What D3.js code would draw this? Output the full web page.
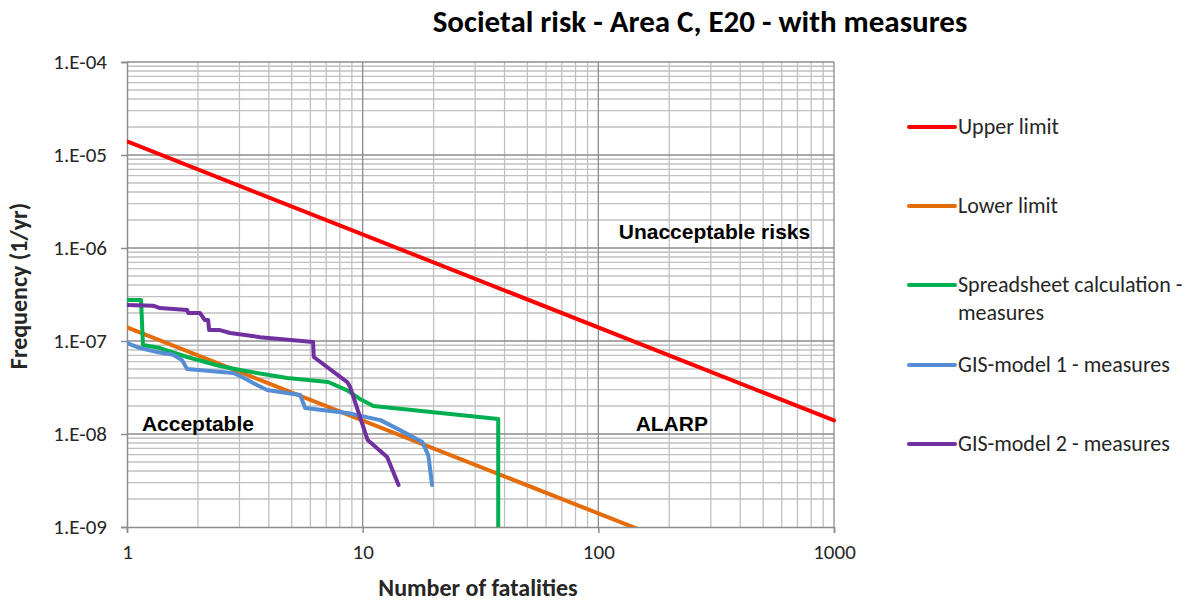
<!DOCTYPE html>
<html>
<head>
<meta charset="utf-8">
<script src="https://cdn.jsdelivr.net/npm/d3@7"></script>
<style>
  body { margin: 0; background: #fff; }
  svg text { font-family: Calibri, Carlito, Lato, "Liberation Sans", sans-serif; fill: #262626; }
</style>
</head>
<body>
<svg id="chart" width="1197" height="601"></svg>
<script>
// tick labels
const xTicks = [1, 10, 100, 1000];
const yTicks = [1e-9, 1e-8, 1e-7, 1e-6, 1e-5, 1e-4];

// series: [N, F]
const upperLimit = [[1, 1.4e-5], [1000, 1.4e-8]];
const lowerLimit = [[1, 1.4e-7], [1000, 1.4e-10]];
const spreadsheet = [
  [1, 2.76e-7], [1.147, 2.76e-7], [1.169, 9.06e-8], [1.38, 8.4e-8], [1.8, 6.73e-8],
  [2.48, 5.39e-8], [3.02, 4.87e-8], [4.78, 4.0e-8], [7.14, 3.62e-8], [8.6, 2.95e-8],
  [9.7, 2.4e-8], [11.1, 2.0e-8], [37.6, 1.45e-8], [37.6, 1e-9]
];
const gis1 = [
  [1, 9.5e-8], [1.136, 8.4e-8], [1.34, 7.6e-8], [1.57, 7.1e-8], [1.71, 6.25e-8],
  [1.8, 5.0e-8], [2.25, 4.76e-8], [2.82, 4.53e-8], [3.02, 4.2e-8], [3.43, 3.53e-8],
  [3.93, 2.97e-8], [5.43, 2.63e-8], [5.7, 1.9e-8], [8.6, 1.68e-8], [11.9, 1.41e-8],
  [14.4, 1.1e-8], [17.9, 8.2e-9], [19.0, 5.9e-9], [19.7, 2.83e-9]
];
const gis2 = [
  [1, 2.44e-7], [1.29, 2.4e-7], [1.38, 2.26e-7], [1.8, 2.15e-7], [1.82, 2.0e-7],
  [2.04, 2.0e-7], [2.14, 1.68e-7], [2.21, 1.68e-7], [2.23, 1.31e-7], [2.48, 1.31e-7],
  [2.74, 1.22e-7], [3.67, 1.1e-7], [6.16, 9.75e-8], [6.2, 6.73e-8], [8.6, 3.62e-8],
  [8.85, 3.2e-8], [10.5, 8.6e-9], [12.7, 5.66e-9], [14.2, 2.83e-9]
];

const series = [
  { name: ["Upper limit"], color: "#ff0000", data: upperLimit, ly: 127 },
  { name: ["Lower limit"], color: "#e46c0a", data: lowerLimit, ly: 206 },
  { name: ["Spreadsheet calculation -", "measures"], color: "#00b050", data: spreadsheet, ly: 285 },
  { name: ["GIS-model 1 - measures"], color: "#558ed5", data: gis1, ly: 365 },
  { name: ["GIS-model 2 - measures"], color: "#7030a0", data: gis2, ly: 444 }
];

const svg = d3.select("#chart");
const plotL = 127, plotR = 834, plotT = 62, plotB = 527;

const x = d3.scaleLog().domain([1, 1000]).range([plotL, plotR]);
const y = d3.scaleLog().domain([1e-9, 1e-4]).range([plotB, plotT]);

// minor grid
const minorX = [], minorY = [];
for (let d = 1; d < 1000; d *= 10) for (let k = 2; k <= 9; k++) minorX.push(d * k);
for (let d = 1e-9; d < 1e-4 * 0.99; d *= 10) for (let k = 2; k <= 9; k++) minorY.push(d * k);

const grid = svg.append("g");
grid.selectAll(".mx").data(minorX).enter().append("line")
  .attr("x1", d => x(d)).attr("x2", d => x(d)).attr("y1", plotT).attr("y2", plotB)
  .attr("stroke", "#c0c0c0").attr("stroke-width", 1.3);
grid.selectAll(".my").data(minorY).enter().append("line")
  .attr("x1", plotL).attr("x2", plotR).attr("y1", d => y(d)).attr("y2", d => y(d))
  .attr("stroke", "#c0c0c0").attr("stroke-width", 1.3);
grid.selectAll(".Mx").data(xTicks.slice(1)).enter().append("line")
  .attr("x1", d => x(d)).attr("x2", d => x(d)).attr("y1", plotT).attr("y2", plotB)
  .attr("stroke", "#8c8c8c").attr("stroke-width", 1.3);
grid.selectAll(".My").data(yTicks.slice(1)).enter().append("line")
  .attr("x1", plotL).attr("x2", plotR).attr("y1", d => y(d)).attr("y2", d => y(d))
  .attr("stroke", "#8c8c8c").attr("stroke-width", 1.3);

// axes
const xAxis = svg.append("g").attr("transform", `translate(0,${plotB})`)
  .call(d3.axisBottom(x).tickValues(xTicks).tickFormat(d3.format("d")).tickSize(6).tickPadding(11));
const yAxis = svg.append("g").attr("transform", `translate(${plotL},0)`)
  .call(d3.axisLeft(y).tickValues(yTicks).tickFormat(d => "1.E-0" + Math.round(-Math.log10(d))).tickSize(6).tickPadding(14));
[xAxis, yAxis].forEach(a => {
  a.attr("font-size", null).attr("font-family", null);
  a.select(".domain").attr("stroke", "#8c8c8c").attr("stroke-width", 1.5);
  a.selectAll(".tick line").attr("stroke", "#8c8c8c").attr("stroke-width", 1.5);
  a.selectAll(".tick text").style("font-size", "21px").style("fill", "#262626");
});

// clip
svg.append("clipPath").attr("id", "plotclip").append("rect")
  .attr("x", plotL).attr("y", plotT - 5).attr("width", plotR - plotL + 5).attr("height", plotB - plotT + 5);

const line = d3.line().x(d => x(d[0])).y(d => y(d[1]));
svg.append("g").attr("clip-path", "url(#plotclip)")
  .selectAll("path").data(series).enter().append("path")
  .attr("d", d => line(d.data)).attr("fill", "none")
  .attr("stroke", d => d.color).attr("stroke-width", 4)
  .attr("stroke-linejoin", "round").attr("stroke-linecap", "round");

// region labels
const regions = [
  { text: "Unacceptable risks", n: 311, f: 1e-6, dy: -9 },
  { text: "Acceptable", n: 2.0, f: 1e-8, dy: -3 },
  { text: "ALARP", n: 205, f: 1e-8, dy: -3 }
];
svg.selectAll(".region").data(regions).enter().append("text")
  .attr("x", d => x(d.n)).attr("y", d => y(d.f) + d.dy)
  .attr("text-anchor", "middle")
  .style("font-family", "Arial, 'Liberation Sans', sans-serif")
  .style("font-size", "21px").style("font-weight", "bold").style("fill", "#000")
  .text(d => d.text);

// title and axis titles
svg.append("text").attr("x", 700).attr("y", 32).attr("text-anchor", "middle")
  .style("font-size", "31px").style("font-weight", "bold").style("fill", "#000")
  .text("Societal risk - Area C, E20 - with measures");
svg.append("text").attr("x", 478).attr("y", 596).attr("text-anchor", "middle")
  .style("font-size", "24px").style("font-weight", "bold").text("Number of fatalities");
svg.append("text").attr("transform", "translate(27,286) rotate(-90)").attr("text-anchor", "middle")
  .style("font-size", "24px").style("font-weight", "bold").text("Frequency (1/yr)");

// legend
const legend = svg.append("g").selectAll("g").data(series).enter().append("g")
  .attr("transform", d => `translate(909,${d.ly})`);
legend.append("line").attr("x1", 0).attr("x2", 46).attr("y1", 0).attr("y2", 0)
  .attr("stroke", d => d.color).attr("stroke-width", 4).attr("stroke-linecap", "round");
legend.append("text").attr("x", 49).attr("y", 7).style("font-size", "22px")
  .selectAll("tspan").data(d => d.name).enter().append("tspan")
  .attr("x", 49).attr("dy", (d, i) => i === 0 ? 0 : 28).text(d => d);
</script>
</body>
</html>
